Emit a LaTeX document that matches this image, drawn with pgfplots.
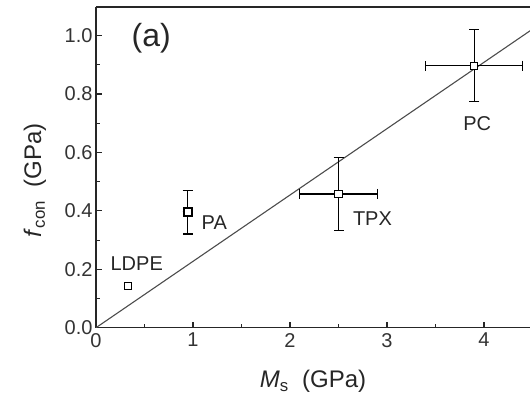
\documentclass[border=0pt]{standalone}
\usepackage{fontspec}
\setmainfont{Liberation Sans}
\usepackage{pgfplots}
\pgfplotsset{compat=1.18}
\begin{document}
\begin{tikzpicture}
\begin{axis}[
  scale only axis,
  width=434pt, height=320.7pt,
  xmin=0, xmax=4.474, ymin=0, ymax=1.098,
  separate axis lines,
  axis x line=box, axis y line=left,
  axis line style={line width=1.3pt, black!85, -},
  xtick={0,1,2,3,4}, ytick={0,0.2,0.4,0.6,0.8,1.0},
  minor xtick={0.5,1.5,2.5,3.5},
  minor ytick={0.1,0.3,0.5,0.7,0.9},
  xtick pos=bottom, ytick pos=left,
  tick align=inside,
  major tick length=6pt, minor tick length=4pt,
  tick style={line width=1.1pt, black!85},
  /pgf/number format/assume math mode=true,
  xticklabel style={font=\fontsize{20}{22}\selectfont, text=black!80, yshift=-2pt},
  yticklabel style={font=\fontsize{20}{22}\selectfont, text=black!80, /pgf/number format/.cd, fixed, fixed zerofill, precision=1},
  xticklabel={\pgfmathprintnumber[fixed,precision=0]{\tick}},
  xlabel={\textit{M}\textsubscript{s}\ \ (GPa)},
  ylabel={\textit{f}\textsubscript{con}\ \ (GPa)},
  xlabel style={font=\fontsize{24}{26}\selectfont, text=black!85, at={(axis description cs:0.5,-0.168)}, anchor=center},
  ylabel style={font=\fontsize{24}{26}\selectfont, text=black!85, at={(axis description cs:-0.1406,0.46)}, anchor=center},
  clip=true,
]
\addplot[black!70, line width=1.1pt] coordinates {(0,0) (4.6,1.045)};
\addplot[only marks, mark=square*, mark size=3.6pt, mark options={fill=white, draw=black, line width=1pt},
  error bars/.cd, x dir=both, y dir=both, x explicit, y explicit,
  error bar style={line width=1.2pt, black},
  error mark options={rotate=90, line width=1.2pt, black, mark size=5pt}]
  table[x=x, y=y, x error=ex, y error=ey] {
  x     y      ex    ey
  2.50  0.458  0.40  0.125
  3.90  0.897  0.50  0.123
  0.945 0.396  0     0.075
};
\addplot[only marks, mark=square*, mark size=3.6pt, mark options={fill=white, draw=black, line width=1pt}]
  coordinates {(0.33,0.143)};
\addplot[only marks, mark=square*, mark size=4pt, mark options={fill=white, draw=black, line width=1.8pt}]
  coordinates {(0.945,0.396)};
\node[font=\fontsize{20}{22}\selectfont, text=black!85] at (axis cs:0.42,0.22) {LDPE};
\node[font=\fontsize{20}{22}\selectfont, text=black!85] at (axis cs:1.22,0.36) {PA};
\node[font=\fontsize{20}{22}\selectfont, text=black!85] at (axis cs:2.85,0.375) {TPX};
\node[font=\fontsize{20}{22}\selectfont, text=black!85] at (axis cs:3.93,0.70) {PC};
\node[font=\fontsize{32}{34}\selectfont, text=black!85] at (axis cs:0.57,0.99) {(a)};
\end{axis}
\pgfresetboundingbox
\path[use as bounding box] ([shift={(-96pt,-69.3pt)}]current axis.south west) rectangle ([shift={(0pt,7pt)}]current axis.north east);
\end{tikzpicture}
\end{document}
